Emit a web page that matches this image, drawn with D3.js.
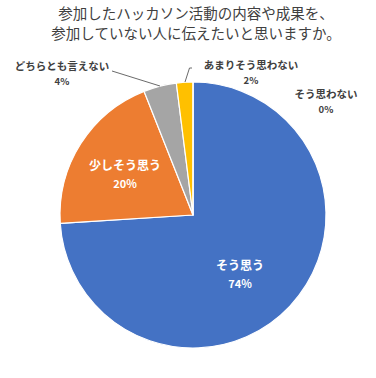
<!DOCTYPE html>
<html><head><meta charset="utf-8">
<script src="https://cdn.jsdelivr.net/npm/d3@7"></script>
<style>
html,body{margin:0;padding:0;background:#fff;}
svg{display:block;font-family:"Noto Sans CJK JP","Noto Sans",sans-serif;}
</style></head>
<body>
<script>
const titleLines = ["参加したハッカソン活動の内容や成果を、", "参加していない人に伝えたいと思いますか。"];
const categories = ["そう思う", "少しそう思う", "どちらとも言えない", "あまりそう思わない", "そう思わない"];
const values = [74, 20, 4, 2, 0];
const percentLabels = ["74%", "20%", "4%", "2%", "0%"];
const colors = ["#4472C4", "#ED7D31", "#A5A5A5", "#FFC000", "#5B9BD5"];

// label layout (text centre positions) - not data
const labelLayout = [
  {x: 240, y: 264, inside: true},
  {x: 125, y: 164, inside: true},
  {x: 62, y: 65, inside: false, leader: [[112, 71], [160, 86]]},
  {x: 251, y: 64, inside: false, leader: [[192, 68], [189.5, 68], [185, 82]]},
  {x: 326, y: 93, inside: false}
];

const W = 376, H = 378;
const cx = 193, cy = 215, R = 133;

const svg = d3.select("body").append("svg").attr("width", W).attr("height", H);

svg.selectAll("text.title").data(titleLines).enter().append("text")
  .attr("class", "title")
  .attr("x", 196).attr("y", (d, i) => 19 + i * 20)
  .attr("text-anchor", "middle")
  .attr("font-size", 14.5)
  .attr("fill", "#404040")
  .text(d => d);

const data = categories.map((c, i) => ({cat: c, v: values[i], pct: percentLabels[i], color: colors[i], lay: labelLayout[i]}));

const pie = d3.pie().sort(null).value(d => d.v);
const arc = d3.arc().innerRadius(0).outerRadius(R);

const g = svg.append("g").attr("transform", `translate(${cx},${cy})`);
g.selectAll("path").data(pie(data)).enter().append("path")
  .attr("d", arc)
  .attr("fill", d => d.data.color)
  .attr("stroke", "#fff")
  .attr("stroke-width", 1.2)
  .attr("stroke-linejoin", "round");

// leader lines
data.forEach(d => {
  if (d.lay.leader) {
    svg.append("polyline")
      .attr("points", d.lay.leader.map(p => p.join(",")).join(" "))
      .attr("fill", "none")
      .attr("stroke", "#595959")
      .attr("stroke-width", 0.9);
  }
});

data.forEach(d => {
  const inside = d.lay.inside;
  const col = inside ? "#ffffff" : "#404040";
  svg.append("text")
    .attr("x", d.lay.x).attr("y", d.lay.y)
    .attr("text-anchor", "middle")
    .attr("dominant-baseline", "central")
    .attr("font-size", inside ? 12 : 10.5)
    .attr("font-weight", "bold")
    .attr("fill", col)
    .text(d.cat);
  svg.append("text")
    .attr("x", d.lay.x).attr("y", d.lay.y + (inside ? 19 : 16))
    .attr("text-anchor", "middle")
    .attr("dominant-baseline", "central")
    .attr("font-size", inside ? 11 : 9.5)
    .attr("font-weight", "bold")
    .attr("fill", col)
    .text(d.pct);
});
</script>
</body></html>
